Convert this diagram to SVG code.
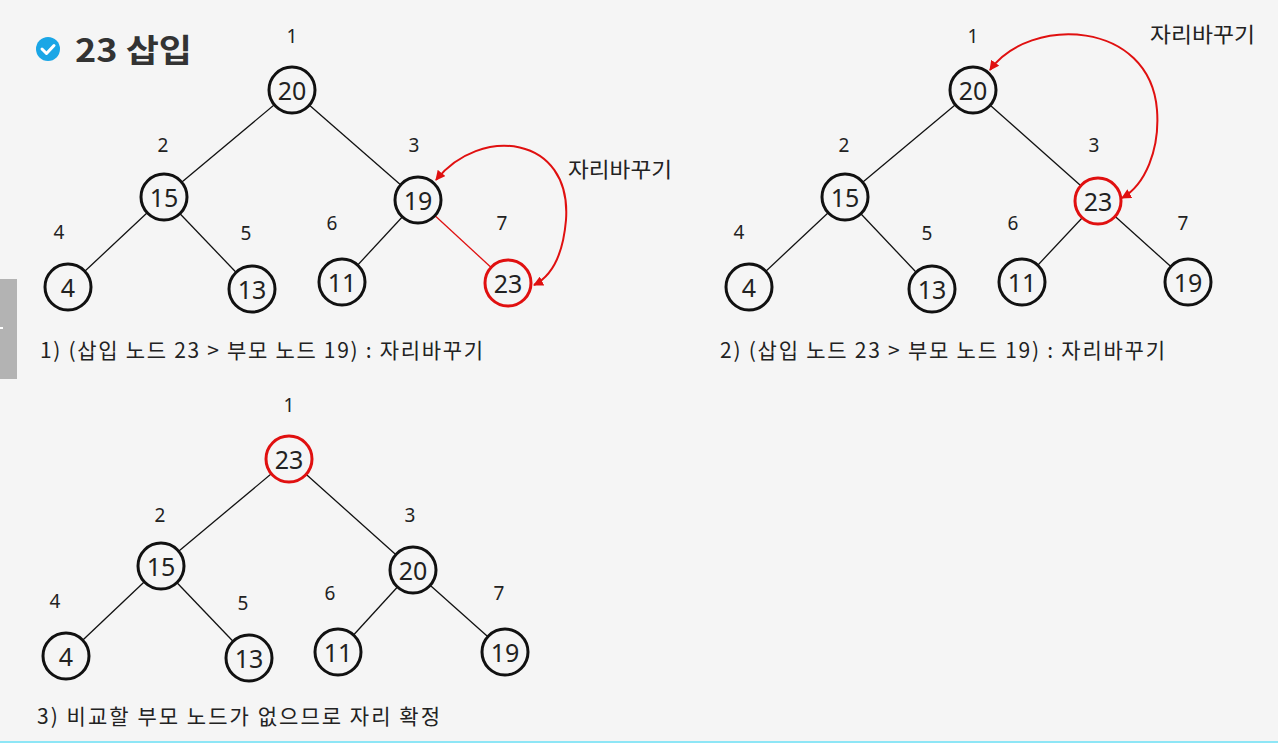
<svg xmlns="http://www.w3.org/2000/svg" width="1278" height="743" viewBox="0 0 1278 743">
<style>
.n circle{fill:#f5f5f5;stroke:#111;stroke-width:3}
.n.red circle{stroke:#e01010}
.n text{font-family:"Noto Sans","Noto Sans CJK KR",sans-serif;font-size:25px;fill:#222;text-anchor:middle;dominant-baseline:central}
.lbl{font-family:"Noto Sans","Noto Sans CJK KR",sans-serif;font-size:19px;fill:#222;text-anchor:middle}
.cap{font-family:"Noto Sans CJK KR","Noto Sans",sans-serif;font-size:21px;fill:#222}
.edges line{stroke:#111;stroke-width:1.3}
.arc{fill:none;stroke:#e01010;stroke-width:2}
</style>
<defs>
<marker id="ah" viewBox="0 0 10 10" refX="9" refY="5" markerWidth="5" markerHeight="5" orient="auto-start-reverse" markerUnits="strokeWidth">
<path d="M0,0 L10,5 L0,10 z" fill="#e01010"/>
</marker>
</defs>
<rect width="1278" height="743" fill="#f5f5f5"/>
<rect x="0" y="279" width="17" height="100" fill="#b3b3b3"/>
<rect x="0" y="327" width="3" height="2" fill="#fff"/>
<rect x="0" y="741" width="1278" height="2" fill="#8ee6f6"/>
<g id="title">
<circle cx="48" cy="49" r="12" fill="#1aa6e6"/>
<path d="M42,49 L46.5,53.5 L54,45.5" fill="none" stroke="#fff" stroke-width="3" stroke-linecap="round" stroke-linejoin="round"/>
<text x="75" y="62" textLength="117" lengthAdjust="spacingAndGlyphs" style="font-family:'Noto Sans CJK KR','Noto Sans',sans-serif;font-size:32px;font-weight:bold;fill:#333">23 삽입</text>
</g>
<g class="edges" id="connectors">
<line x1="292" y1="90" x2="164" y2="197"/>
<line x1="292" y1="90" x2="418" y2="200"/>
<line x1="164" y1="197" x2="68" y2="287"/>
<line x1="164" y1="197" x2="252" y2="289"/>
<line x1="418" y1="200" x2="342" y2="282"/>
<line x1="418" y1="200" x2="508" y2="283" style="stroke:#e01010"/>
<line x1="973" y1="90" x2="845" y2="197"/>
<line x1="973" y1="90" x2="1098" y2="201"/>
<line x1="845" y1="197" x2="749" y2="287"/>
<line x1="845" y1="197" x2="932" y2="289"/>
<line x1="1098" y1="201" x2="1022" y2="282"/>
<line x1="1098" y1="201" x2="1188" y2="282"/>
<line x1="289" y1="459" x2="161" y2="566"/>
<line x1="289" y1="459" x2="413" y2="570"/>
<line x1="161" y1="566" x2="66" y2="656"/>
<line x1="161" y1="566" x2="249" y2="658"/>
<line x1="413" y1="570" x2="338" y2="652"/>
<line x1="413" y1="570" x2="505" y2="652"/>
<path class="arc" d="M436,180 C480,125 572,135 566,220 C563,255 552,276 534,285" marker-start="url(#ah)" marker-end="url(#ah)"/>
<path class="arc" d="M990,70 C1030,15 1150,20 1157,110 C1160,150 1145,185 1122,198" marker-start="url(#ah)" marker-end="url(#ah)"/>
</g>
<g id="tree1">
<g class="n" id="t1n1"><circle cx="292" cy="90" r="23"/><text x="292" y="90">20</text></g>
<g class="n" id="t1n2"><circle cx="164" cy="197" r="23"/><text x="164" y="197">15</text></g>
<g class="n" id="t1n3"><circle cx="418" cy="200" r="23"/><text x="418" y="200">19</text></g>
<g class="n" id="t1n4"><circle cx="68" cy="287" r="23"/><text x="68" y="287">4</text></g>
<g class="n" id="t1n5"><circle cx="252" cy="289" r="23"/><text x="252" y="289">13</text></g>
<g class="n" id="t1n6"><circle cx="342" cy="282" r="23"/><text x="342" y="282">11</text></g>
<g class="n red" id="t1n7"><circle cx="508" cy="283" r="23"/><text x="508" y="283">23</text></g>
<text class="lbl" x="292" y="43">1</text>
<text class="lbl" x="163" y="152">2</text>
<text class="lbl" x="414" y="152">3</text>
<text class="lbl" x="59" y="239">4</text>
<text class="lbl" x="246" y="240">5</text>
<text class="lbl" x="332" y="230">6</text>
<text class="lbl" x="502" y="230">7</text>
<text class="cap" x="568" y="177" textLength="104" lengthAdjust="spacingAndGlyphs">자리바꾸기</text>
<text class="cap" x="40" y="358" textLength="443" lengthAdjust="spacing">1) (삽입 노드 23 &gt; 부모 노드 19) : 자리바꾸기</text>
</g>
<g id="tree2">
<g class="n" id="t2n1"><circle cx="973" cy="90" r="23"/><text x="973" y="90">20</text></g>
<g class="n" id="t2n2"><circle cx="845" cy="197" r="23"/><text x="845" y="197">15</text></g>
<g class="n red" id="t2n3"><circle cx="1098" cy="201" r="23"/><text x="1098" y="201">23</text></g>
<g class="n" id="t2n4"><circle cx="749" cy="287" r="23"/><text x="749" y="287">4</text></g>
<g class="n" id="t2n5"><circle cx="932" cy="289" r="23"/><text x="932" y="289">13</text></g>
<g class="n" id="t2n6"><circle cx="1022" cy="282" r="23"/><text x="1022" y="282">11</text></g>
<g class="n" id="t2n7"><circle cx="1188" cy="282" r="23"/><text x="1188" y="282">19</text></g>
<text class="lbl" x="973" y="43">1</text>
<text class="lbl" x="844" y="152">2</text>
<text class="lbl" x="1094" y="152">3</text>
<text class="lbl" x="739" y="239">4</text>
<text class="lbl" x="927" y="240">5</text>
<text class="lbl" x="1013" y="230">6</text>
<text class="lbl" x="1183" y="230">7</text>
<text class="cap" x="1150" y="42" textLength="105" lengthAdjust="spacingAndGlyphs">자리바꾸기</text>
<text class="cap" x="720" y="358" textLength="445" lengthAdjust="spacing">2) (삽입 노드 23 &gt; 부모 노드 19) : 자리바꾸기</text>
</g>
<g id="tree3">
<g class="n red" id="t3n1"><circle cx="289" cy="459" r="23"/><text x="289" y="459">23</text></g>
<g class="n" id="t3n2"><circle cx="161" cy="566" r="23"/><text x="161" y="566">15</text></g>
<g class="n" id="t3n3"><circle cx="413" cy="570" r="23"/><text x="413" y="570">20</text></g>
<g class="n" id="t3n4"><circle cx="66" cy="656" r="23"/><text x="66" y="656">4</text></g>
<g class="n" id="t3n5"><circle cx="249" cy="658" r="23"/><text x="249" y="658">13</text></g>
<g class="n" id="t3n6"><circle cx="338" cy="652" r="23"/><text x="338" y="652">11</text></g>
<g class="n" id="t3n7"><circle cx="505" cy="652" r="23"/><text x="505" y="652">19</text></g>
<text class="lbl" x="289" y="412">1</text>
<text class="lbl" x="160" y="522">2</text>
<text class="lbl" x="410" y="522">3</text>
<text class="lbl" x="55" y="608">4</text>
<text class="lbl" x="243" y="610">5</text>
<text class="lbl" x="330" y="600">6</text>
<text class="lbl" x="499" y="600">7</text>
<text class="cap" x="37" y="724" textLength="403" lengthAdjust="spacing">3) 비교할 부모 노드가 없으므로 자리 확정</text>
</g>
</svg>
